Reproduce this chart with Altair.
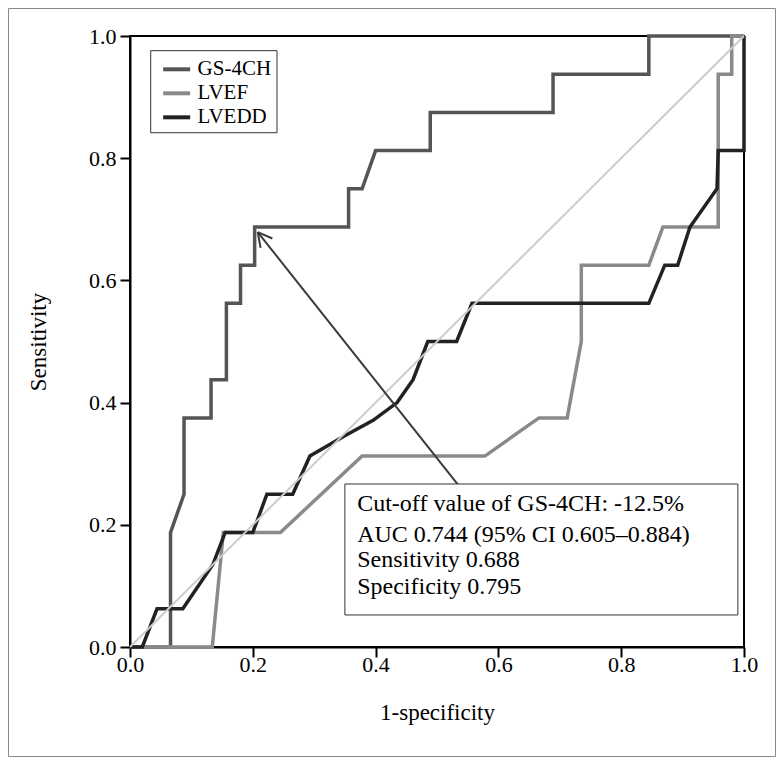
import altair as alt
import pandas as pd
import numpy as np

W, H = 614, 611
FONT = "Liberation Serif"

series = ["GS-4CH", "LVEF", "LVEDD"]
colors = ["#555555", "#8a8a8a", "#222222"]

gs_x = [0, 0.066, 0.066, 0.088, 0.088, 0.132, 0.132, 0.157, 0.157, 0.18, 0.18, 0.203, 0.203,
        0.356, 0.356, 0.378, 0.400, 0.489, 0.489, 0.689, 0.689, 0.845, 0.845, 1.0]
gs_y = [0, 0, 0.1875, 0.25, 0.375, 0.375, 0.4375, 0.4375, 0.5625, 0.5625, 0.625, 0.625, 0.6875,
        0.6875, 0.75, 0.75, 0.8125, 0.8125, 0.875, 0.875, 0.9375, 0.9375, 1.0, 1.0]

lvef_x = [0, 0.134, 0.152, 0.245, 0.378, 0.578, 0.666, 0.712, 0.735, 0.735, 0.845, 0.868,
          0.958, 0.958, 0.98, 0.98, 1.0]
lvef_y = [0, 0, 0.1875, 0.1875, 0.3125, 0.3125, 0.375, 0.375, 0.5, 0.625, 0.625, 0.6875,
          0.6875, 0.9375, 0.9375, 1.0, 1.0]

lvedd_x = [0, 0.02, 0.044, 0.086, 0.135, 0.155, 0.2, 0.223, 0.265, 0.293, 0.347, 0.396, 0.435,
           0.461, 0.485, 0.532, 0.557, 0.845, 0.871, 0.892, 0.912, 0.956, 0.958, 1.0, 1.0]
lvedd_y = [0, 0, 0.0625, 0.0625, 0.135, 0.1875, 0.1875, 0.25, 0.25, 0.3125, 0.344, 0.371, 0.40,
           0.4375, 0.5, 0.5, 0.5625, 0.5625, 0.625, 0.625, 0.6875, 0.75, 0.8125, 0.8125, 1.0]

ticks = [0.0, 0.2, 0.4, 0.6, 0.8, 1.0]

box_lines = ["Cut-off value of GS-4CH: -12.5%", "AUC 0.744 (95% CI 0.605\u20130.884)",
             "Sensitivity 0.688", "Specificity 0.795"]
box_line_y = [0.2226, 0.1718, 0.131, 0.0867]
box_text_x = 0.37
box_rect = dict(x=0.350, x2=0.990, y=0.2668, y2=0.0524)

legend_rect = dict(x=0.0337, x2=0.2394, y=0.976, y2=0.8417)
legend_y = [0.9455, 0.9062, 0.8669]
legend_line_x = [0.054, 0.098]
legend_text_x = 0.11

arrow_start = (0.537, 0.262)
arrow_tip = (0.208, 0.679)

rows = []
for name, xs, ys in [("GS-4CH", gs_x, gs_y), ("LVEF", lvef_x, lvef_y), ("LVEDD", lvedd_x, lvedd_y)]:
    for i, (x, y) in enumerate(zip(xs, ys)):
        rows.append(dict(series=name, i=i, x=x, y=y))
df = pd.DataFrame(rows)

xs_ = alt.Scale(domain=[0, 1], nice=False, zero=False)
ys_ = alt.Scale(domain=[0, 1], nice=False, zero=False)

common_axis = dict(values=ticks, format=".1f", grid=False, labelFont=FONT, labelFontSize=22,
                   labelColor="black", tickColor="black", tickSize=10, tickWidth=2,
                   domainColor="black", domainWidth=2, titleFont=FONT, titleFontSize=23,
                   titleFontWeight="normal", titleColor="black", labelFlush=False)

X = alt.X("x:Q", scale=xs_, axis=alt.Axis(title="1-specificity", titleX=W / 2, titleY=65,
                                          titleBaseline="middle", labelPadding=-3, **common_axis))
Y = alt.Y("y:Q", scale=ys_, axis=alt.Axis(title="Sensitivity", titleX=-92, titleY=H / 2,
                                          titleBaseline="middle", titleAlign="center",
                                          labelPadding=4, **common_axis))

color = alt.Color("series:N", scale=alt.Scale(domain=series, range=colors), legend=None)

curves = alt.Chart(df).mark_line(strokeWidth=3.5, strokeJoin="miter").encode(
    x=X, y=Y, color=color, order="i:Q", detail="series:N")

diag = alt.Chart(pd.DataFrame({"x": [0, 1], "y": [0, 1]})).mark_line(
    color="#cccccc", strokeWidth=2).encode(x="x:Q", y="y:Q")

# arrow
sx, sy = arrow_start
tx, ty = arrow_tip
dpx = np.array([(sx - tx) * W, -(sy - ty) * H])
u = dpx / np.linalg.norm(dpx)
heads = []
for ang in (28, -28):
    a = np.radians(ang)
    v = np.array([u[0] * np.cos(a) - u[1] * np.sin(a), u[0] * np.sin(a) + u[1] * np.cos(a)])
    p = np.array([tx * W, (1 - ty) * H]) + 16 * v
    heads.append(dict(x=tx, y=ty, x2=p[0] / W, y2=1 - p[1] / H))
arrow_df = pd.DataFrame([dict(x=sx, y=sy, x2=tx, y2=ty)] + heads)
arrow = alt.Chart(arrow_df).mark_rule(color="#3a3a3a", strokeWidth=2).encode(
    x="x:Q", y="y:Q", x2="x2:Q", y2="y2:Q")

box = alt.Chart(pd.DataFrame([box_rect])).mark_rect(
    fill="white", stroke="#333333", strokeWidth=1).encode(x="x:Q", x2="x2:Q", y="y:Q", y2="y2:Q")
box_text = alt.Chart(pd.DataFrame({"t": box_lines, "y": box_line_y, "x": box_text_x})).mark_text(
    align="left", baseline="alphabetic", font=FONT, fontSize=24, color="black").encode(
    x="x:Q", y="y:Q", text="t:N")

leg_box = alt.Chart(pd.DataFrame([legend_rect])).mark_rect(
    fill="white", stroke="#333333", strokeWidth=1).encode(x="x:Q", x2="x2:Q", y="y:Q", y2="y2:Q")
leg_df = pd.DataFrame({"series": series, "y": legend_y, "x": legend_line_x[0],
                       "x2": legend_line_x[1], "tx": legend_text_x})
leg_lines = alt.Chart(leg_df).mark_rule(strokeWidth=4).encode(
    x="x:Q", x2="x2:Q", y="y:Q", color=color)
leg_text = alt.Chart(leg_df).mark_text(
    align="left", baseline="middle", font=FONT, fontSize=21, color="black").encode(
    x="tx:Q", y="y:Q", text="series:N")

frame = alt.Chart(pd.DataFrame({"a": [0]})).mark_rect(
    fill="transparent", stroke="#888888", strokeWidth=1).encode(
    x=alt.value(-121.5), x2=alt.value(645.5), y=alt.value(-27.5), y2=alt.value(720.5))

chart = alt.layer(curves, diag, arrow, box, box_text, leg_box, leg_lines, leg_text, frame).properties(
    width=W, height=H, padding=0
).configure_view(stroke="black", strokeWidth=2)

chart.save("out.html", embed_options={"renderer": "svg", "actions": False})
